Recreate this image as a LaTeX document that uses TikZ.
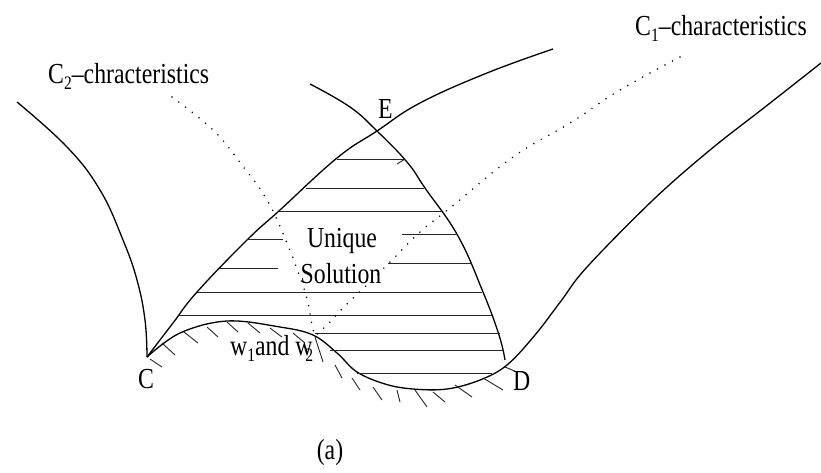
\documentclass[tikz,border=0pt]{standalone}
\usepackage{fontspec}
\setmainfont{Liberation Serif}
\usepackage{graphicx}
\newcommand\nx[1]{\scalebox{0.82}[1]{#1}}
\newcommand\lowsub[1]{\raisebox{-6pt}{\fontsize{19}{19}\selectfont #1}}
\begin{document}
\begin{tikzpicture}[x=1pt,y=-1pt,
 mainline/.style={line width=1.3pt, line join=round},
 hatchline/.style={line width=0.9pt, black!85},
 dotline/.style={line width=1.7pt, line cap=round, dash pattern=on 0pt off 8.5pt},
 lbl/.style={inner sep=0pt, font=\fontsize{29}{34}\selectfont}]
\useasboundingbox (0,0) rectangle (821,472);

% left curve
\draw[mainline] plot[smooth, tension=0.7] coordinates {(17,102) (67,147) (100,190) (123,240) (137,280) (145,320) (147,357)};
% C--E curve
\draw[mainline] plot[smooth, tension=0.7] coordinates {(147,357) (173,323) (197,292) (247,240) (280,210) (337,158) (377,131) (420,103) (487,73) (553,49)};
% curve through E
\draw[mainline] plot[smooth, tension=0.7] coordinates {(310,84) (350,107) (377,131) (407,162) (425,188) (458,236) (483,292) (499,335) (505,360)};
% bottom curve C -- D -- up right
\draw[mainline] plot[smooth, tension=0.6] coordinates {(147,357) (180,333) (227,321) (280,327) (313,335) (337,353) (357,372) (385,384) (413,389) (447,389) (480,380) (507,365) (535,335) (561,301) (587,267) (653,200) (710,150) (765,107) (821,63)};

% horizontal hatching
\foreach \xa/\xb/\yy in {337/405/159, 306/424/188, 279/442/211, 247/283/239, 402/458/234, 220/278/268, 388/472/263, 197/482/292, 178/492/315, 315/500/333, 330/504/350, 357/492/373}
  \draw[hatchline] (\xa,\yy) -- (\xb,\yy);
\draw[hatchline] (397,164) -- (405,159);

% boundary hatching
\foreach \xa/\ya/\xb/\yb in {150/359/162/367, 162/343/175/355, 184/332/198/343, 207/327/218/337, 227/322/238/332, 248/323/260/333, 270/328/282/337, 293/333/305/343, 315/337/323/362, 335/365/342/378, 352/378/360/390, 373/387/382/400, 397/390/400/402, 415/390/427/407, 433/392/445/402, 455/385/472/397, 483/378/503/390, 505/367/517/372}
  \draw[hatchline] (\xa,\ya) -- (\xb,\yb);

% characteristics (dotted)
\draw[dotline] plot[smooth, tension=0.7] coordinates {(172,97) (213,130) (242,165) (267,200) (287,243) (302,283) (308,303) (312,325) (315,336)};
\draw[dotline] plot[smooth, tension=0.7] coordinates {(680,57) (620,90) (570,123) (513,157) (450,208) (420,232) (395,257) (370,282) (343,308) (330,322) (315,336)};

% labels
\node[lbl, anchor=base west] (c2lab) at (48,83) {\nx{C\lowsub{2}--chracteristics}};
\node[lbl, anchor=base west] (c1lab) at (635,35) {\nx{C\lowsub{1}--characteristics}};
\node[lbl, anchor=base west] (elab) at (378,118) {\nx{E}};
\node[lbl, anchor=base west] (clab) at (138,388) {\nx{C}};
\node[lbl, anchor=base west] (dlab) at (513,390) {\nx{D}};
\node[lbl, anchor=base] (uniq) at (342,247) {\nx{Unique}};
\node[lbl, anchor=base] (sol) at (341,283) {\nx{Solution}};
\node[lbl, anchor=base west] (wlab) at (230,355) {\nx{w\lowsub{1}and w\kern-0.3em\lowsub{2}}};
\node[lbl, anchor=base] (alab) at (330,459) {\nx{(a)}};
\end{tikzpicture}
\end{document}
